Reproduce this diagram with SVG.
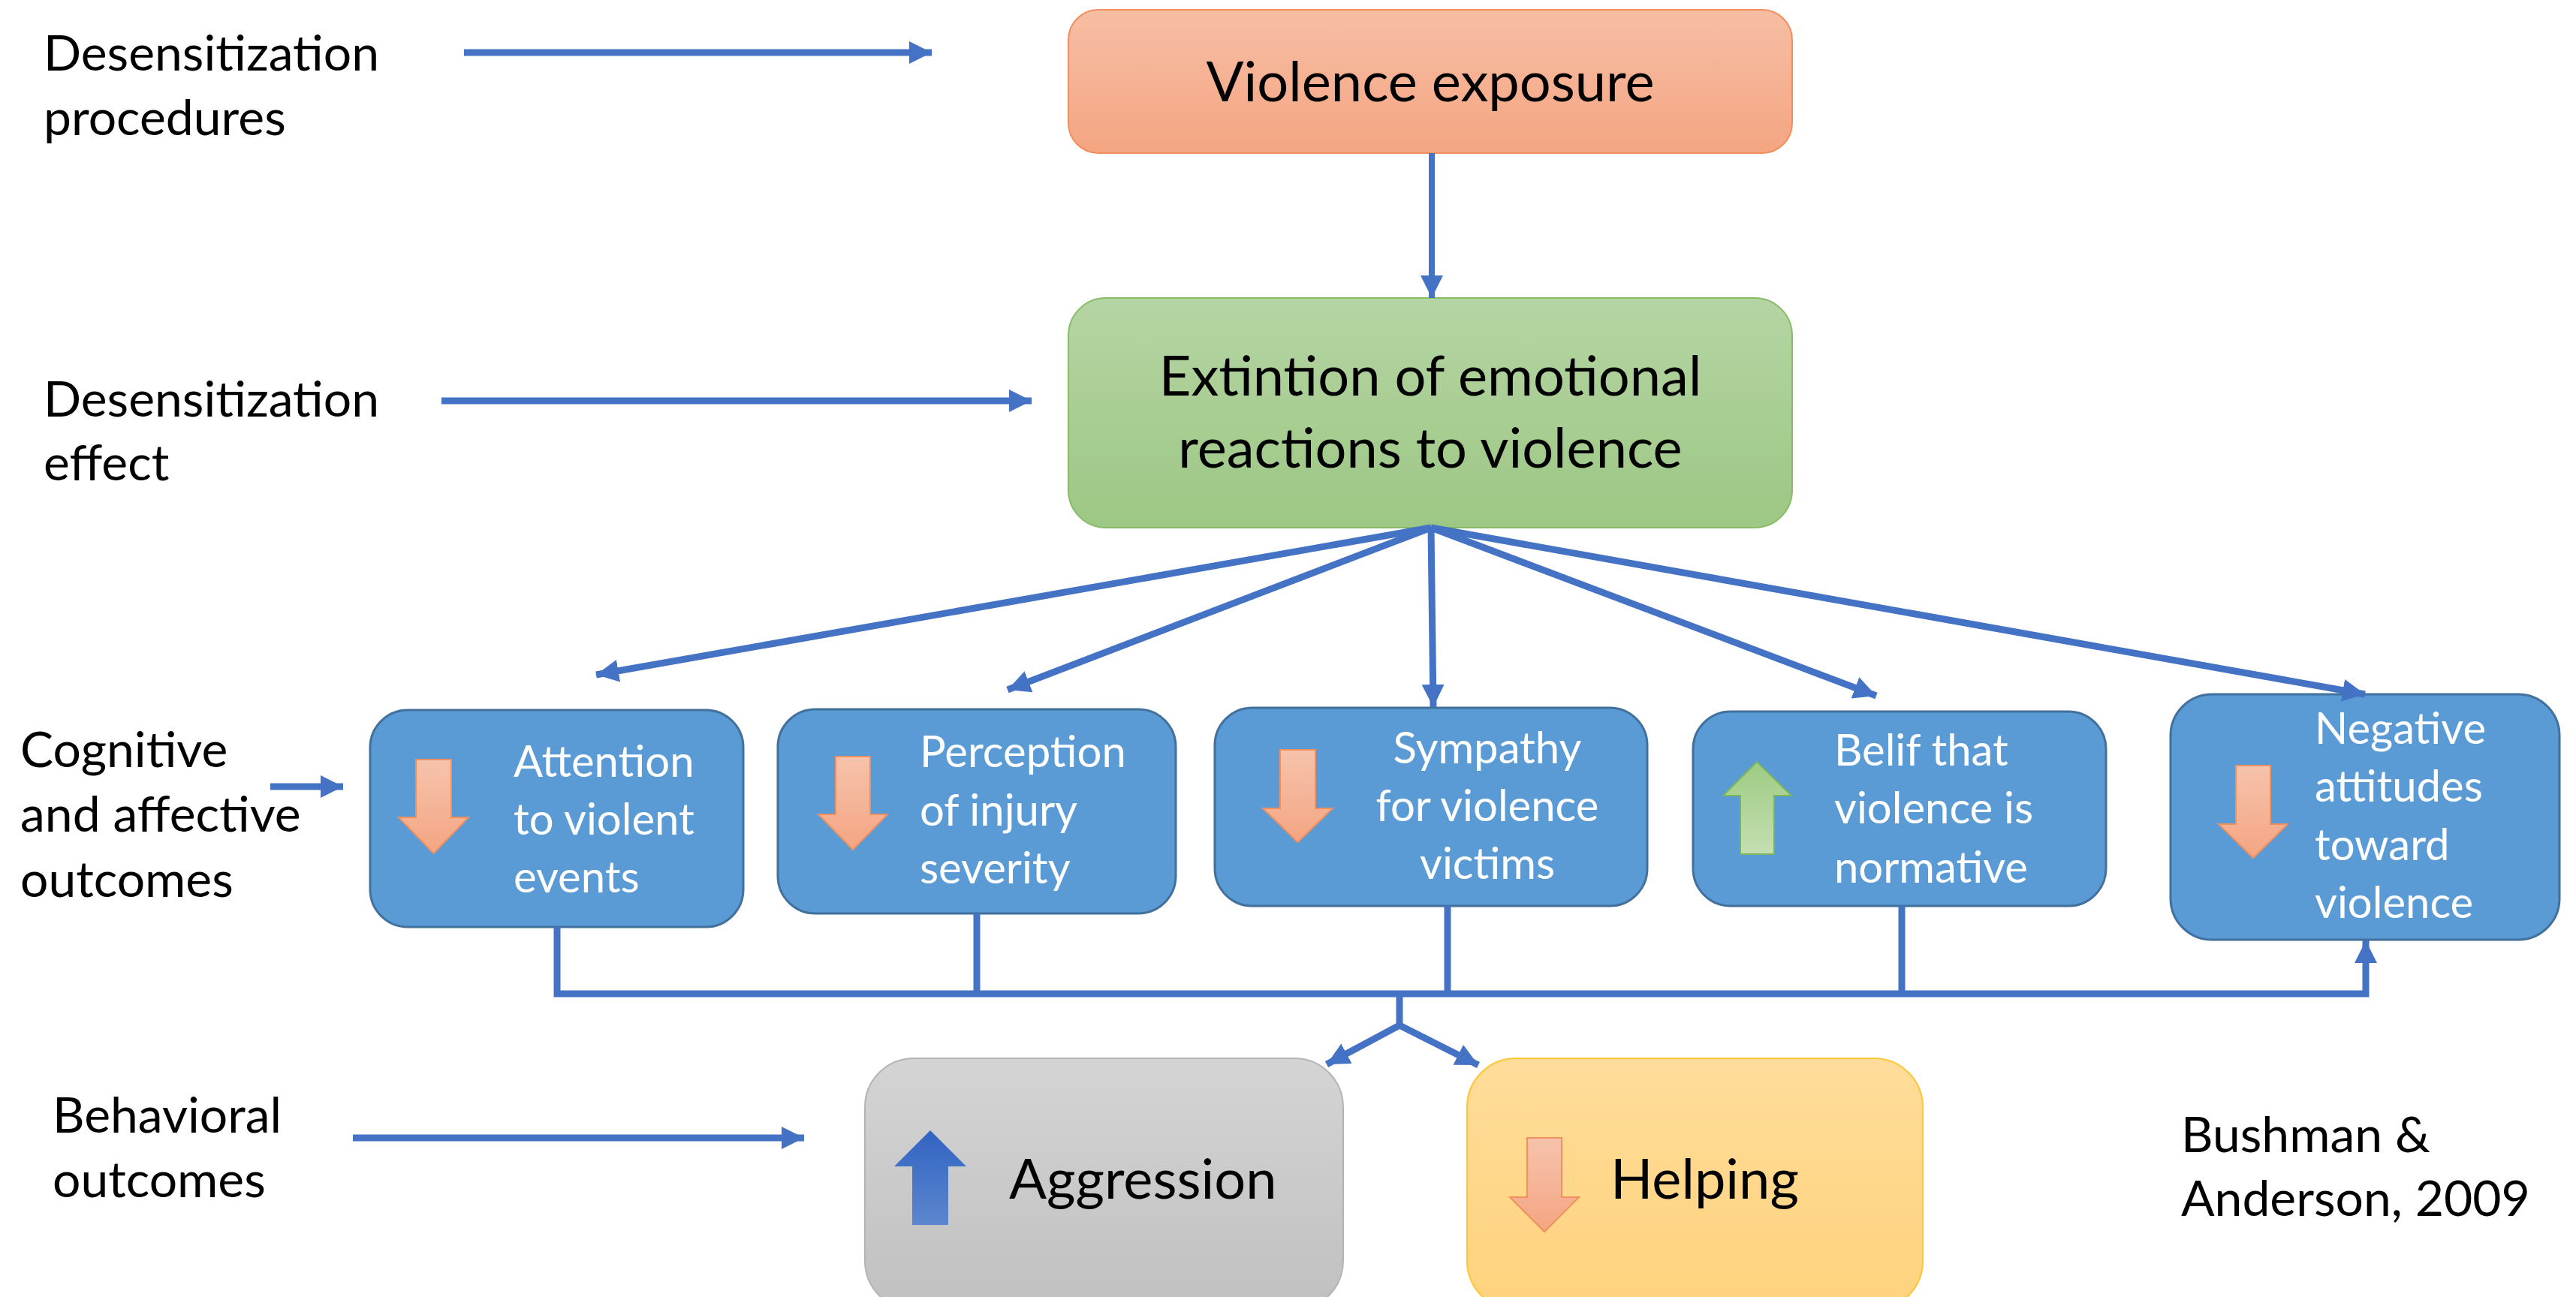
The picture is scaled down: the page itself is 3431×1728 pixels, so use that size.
<svg xmlns="http://www.w3.org/2000/svg" width="3431" height="1728" viewBox="0 0 3431 1728">
<defs>
<linearGradient id="gOrangeBox" x1="0" y1="0" x2="0" y2="1"><stop offset="0" stop-color="#F7BEA4"/><stop offset="1" stop-color="#F4A582"/></linearGradient>
<linearGradient id="gGreenBox" x1="0" y1="0" x2="0" y2="1"><stop offset="0" stop-color="#B5D5A4"/><stop offset="1" stop-color="#9DC784"/></linearGradient>
<linearGradient id="gGrayBox" x1="0" y1="0" x2="0" y2="1"><stop offset="0" stop-color="#D4D4D4"/><stop offset="1" stop-color="#C0C0C0"/></linearGradient>
<linearGradient id="gYellowBox" x1="0" y1="0" x2="0" y2="1"><stop offset="0" stop-color="#FFDC9A"/><stop offset="1" stop-color="#FFD37D"/></linearGradient>
<linearGradient id="gOrangeArrow" x1="0" y1="0" x2="0" y2="1"><stop offset="0" stop-color="#F6C3AC"/><stop offset="1" stop-color="#F4A582"/></linearGradient>
<linearGradient id="gGreenArrow" x1="0" y1="0" x2="0" y2="1"><stop offset="0" stop-color="#9ECB82"/><stop offset="1" stop-color="#C4DFB2"/></linearGradient>
<linearGradient id="gBlueArrow" x1="0" y1="0" x2="0" y2="1"><stop offset="0" stop-color="#3163C2"/><stop offset="1" stop-color="#5C86CE"/></linearGradient>
<marker id="ah" markerUnits="userSpaceOnUse" markerWidth="32" markerHeight="32" viewBox="0 0 32 32" refX="30" refY="16" orient="auto">
<path d="M0,1 L30,16 L0,31 Z" fill="#4472C4"/>
</marker>
<style>
.lbl{font-family:Lato,"Liberation Sans",sans-serif;font-size:66px;fill:#000}
.wt{font-family:Lato,"Liberation Sans",sans-serif;font-size:58px;fill:#fff}
.big{font-family:Lato,"Liberation Sans",sans-serif;font-size:74px;fill:#000}
.blue{fill:#5B9BD5;stroke:#41719C;stroke-width:3}
.conn{fill:none;stroke:#4472C4;stroke-width:9}
.oarr{fill:url(#gOrangeArrow);stroke:#F0905E;stroke-width:2}
</style>
</defs>
<rect width="3431" height="1728" fill="#fff"/>

<g id="labels">
<text class="lbl" x="58" y="94">Desensitization</text>
<text class="lbl" x="58" y="180">procedures</text>
<text class="lbl" x="58" y="555">Desensitization</text>
<text class="lbl" x="58" y="640">effect</text>
<text class="lbl" x="27" y="1022">Cognitive</text>
<text class="lbl" x="27" y="1108">and affective</text>
<text class="lbl" x="27" y="1195">outcomes</text>
<text class="lbl" x="70" y="1509">Behavioral</text>
<text class="lbl" x="70" y="1595">outcomes</text>
</g>

<g id="citation">
<text class="lbl" x="2905" y="1535">Bushman &amp;</text>
<text class="lbl" x="2905" y="1620">Anderson, 2009</text>
</g>

<g id="node-violence-exposure">
<rect x="1423" y="13" width="964" height="191" rx="40" fill="url(#gOrangeBox)" stroke="#F08E5C" stroke-width="2"/>
<text class="big" x="1905" y="135" text-anchor="middle">Violence exposure</text>
</g>

<g id="node-extinction">
<rect x="1423" y="397" width="964" height="306" rx="50" fill="url(#gGreenBox)" stroke="#86BC66" stroke-width="2"/>
<text class="big" x="1905" y="527" text-anchor="middle">Extintion of emotional</text>
<text class="big" x="1905" y="623" text-anchor="middle">reactions to violence</text>
</g>

<g id="node-attention">
<rect class="blue" x="493" y="946" width="497" height="289" rx="50"/>
<polygon class="oarr" points="554,1012 601,1012 601,1089 624,1089 577.5,1137 531,1089 554,1089"/>
<text class="wt" x="684" y="1035">Attention</text>
<text class="wt" x="684" y="1112">to violent</text>
<text class="wt" x="684" y="1189">events</text>
</g>

<g id="node-perception">
<rect class="blue" x="1036" y="945" width="530" height="272" rx="50"/>
<polygon class="oarr" points="1113,1008 1159,1008 1159,1085 1182,1085 1136,1132 1090,1085 1113,1085"/>
<text class="wt" x="1225" y="1022">Perception</text>
<text class="wt" x="1225" y="1100">of injury</text>
<text class="wt" x="1225" y="1177">severity</text>
</g>

<g id="node-sympathy">
<rect class="blue" x="1618" y="943" width="576" height="264" rx="50"/>
<polygon class="oarr" points="1705,999 1752,999 1752,1077 1775,1077 1728.5,1122 1682,1077 1705,1077"/>
<text class="wt" x="1981" y="1017" text-anchor="middle">Sympathy</text>
<text class="wt" x="1981" y="1094" text-anchor="middle">for violence</text>
<text class="wt" x="1981" y="1171" text-anchor="middle">victims</text>
</g>

<g id="node-belief">
<rect class="blue" x="2255" y="948" width="550" height="259" rx="50"/>
<polygon points="2340,1015 2386,1060 2363,1060 2363,1138 2318,1138 2318,1060 2295,1060" fill="url(#gGreenArrow)" stroke="#7CB45A" stroke-width="2"/>
<text class="wt" x="2443" y="1020">Belif that</text>
<text class="wt" x="2443" y="1097">violence is</text>
<text class="wt" x="2443" y="1176">normative</text>
</g>

<g id="node-negative">
<rect class="blue" x="2891" y="925" width="518" height="327" rx="55"/>
<polygon class="oarr" points="2978,1020 3024,1020 3024,1098 3047,1098 3001,1143 2955,1098 2978,1098"/>
<text class="wt" x="3083" y="991">Negative</text>
<text class="wt" x="3083" y="1068">attitudes</text>
<text class="wt" x="3083" y="1146">toward</text>
<text class="wt" x="3083" y="1223">violence</text>
</g>

<g id="node-aggression">
<rect x="1152" y="1410" width="637" height="335" rx="65" fill="url(#gGrayBox)" stroke="#B4B4B4" stroke-width="2"/>
<polygon points="1239,1506 1287,1554 1263,1554 1263,1632 1215,1632 1215,1554 1191,1554" fill="url(#gBlueArrow)"/>
<text class="big" x="1344" y="1597">Aggression</text>
</g>

<g id="node-helping">
<rect x="1954" y="1410" width="607" height="335" rx="65" fill="url(#gYellowBox)" stroke="#FFC534" stroke-width="2"/>
<polygon class="oarr" points="2034,1516 2080,1516 2080,1595 2103,1595 2057,1641 2011,1595 2034,1595"/>
<text class="big" x="2145" y="1597">Helping</text>
</g>

<g id="connectors">
<path class="conn" d="M618,70 H1241" marker-end="url(#ah)"/>
<path class="conn" d="M588,534 H1374" marker-end="url(#ah)"/>
<path class="conn" d="M360,1048 H457" marker-end="url(#ah)"/>
<path class="conn" d="M470,1516 H1071" marker-end="url(#ah)"/>
<path class="conn" style="stroke-width:8" d="M1907,204 V397" marker-end="url(#ah)"/>
<path class="conn" d="M1906,703 L794,899" marker-end="url(#ah)"/>
<path class="conn" d="M1906,703 L1342,919" marker-end="url(#ah)"/>
<path class="conn" d="M1906,703 L1909,942" marker-end="url(#ah)"/>
<path class="conn" d="M1906,703 L2499,927" marker-end="url(#ah)"/>
<path class="conn" d="M1906,703 L3150,925" marker-end="url(#ah)"/>
<path class="conn" d="M742,1235 V1324 H3151 V1253" marker-end="url(#ah)"/>
<path class="conn" d="M1301,1217 V1324"/>
<path class="conn" d="M1928,1207 V1324"/>
<path class="conn" d="M2533,1207 V1324"/>
<path class="conn" d="M1864,1324 V1366 L1767,1418" marker-end="url(#ah)"/>
<path class="conn" d="M1864,1366 L1969,1419" marker-end="url(#ah)"/>
</g>
</svg>
